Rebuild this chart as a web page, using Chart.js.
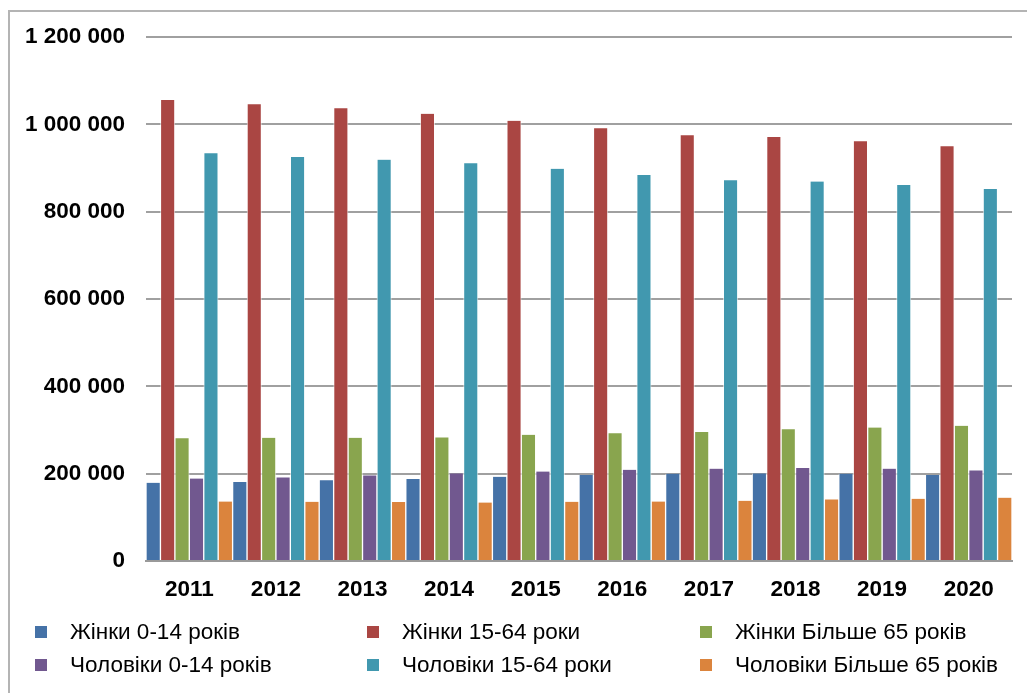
<!DOCTYPE html>
<html>
<head>
<meta charset="utf-8">
<script src="https://cdn.jsdelivr.net/npm/chart.js@4/dist/chart.umd.min.js"></script>
<style>
    body { margin: 0; background: #fff; font-family: "Liberation Sans", Arial, sans-serif; }
    #wrap { position: relative; width: 1027px; height: 693px; overflow: hidden; }
    #frame { position: absolute; left: 8px; top: 10px; width: 1030px; height: 700px;
             border-left: 2px solid #b4b4b4; border-top: 2px solid #b4b4b4; }
    #chart { position: absolute; left: 0; top: 0; }
    #legend { position: absolute; left: 35px; top: 619px; display: grid;
              grid-template-columns: 332px 333px auto; row-gap: 8px; font-size: 22.5px; color: #000; }
    .item { display: flex; align-items: center; height: 25px; }
    .box { width: 12px; height: 12px; margin-right: 23px; flex: none; }
</style>
</head>
<body>
<div id="wrap">
    <div id="frame"></div>
    <canvas id="chart" width="1027" height="693"></canvas>
    <div id="legend"></div>
</div>
<script>
const years = ['2011', '2012', '2013', '2014', '2015', '2016', '2017', '2018', '2019', '2020'];
const yTicks = [0, 200000, 400000, 600000, 800000, 1000000, 1200000];

const women0to14 = [179000, 181000, 185000, 188000, 193000, 197000, 200000, 200500, 200000, 197000];
const women15to64 = [1056000, 1046000, 1037000, 1024000, 1008000, 991000, 975000, 971000, 961000, 950000];
const women65plus = [281000, 282000, 282000, 283000, 289000, 292500, 295500, 302000, 305500, 309500];
const men0to14 = [189000, 191500, 196000, 200500, 205000, 209000, 211500, 213000, 211500, 207500];
const men15to64 = [934000, 925000, 919000, 911000, 898000, 884000, 872000, 869000, 861000, 852000];
const men65plus = [136000, 135500, 135000, 134000, 135500, 136000, 138000, 141000, 142500, 145000];

const seriesNames = ['Жінки 0-14 років', 'Жінки 15-64 роки', 'Жінки Більше 65 років',
    'Чоловіки 0-14 років', 'Чоловіки 15-64 роки', 'Чоловіки Більше 65 років'];
const seriesColors = ['#4572A7', '#AA4643', '#89A54E', '#71588F', '#4198AF', '#DB843D'];
const seriesData = [women0to14, women15to64, women65plus, men0to14, men15to64, men65plus];

function formatThousands(v) {
    return String(v).replace(/\B(?=(\d{3})+(?!\d))/g, ' ');
}

const datasets = seriesNames.map((name, i) => ({
    label: name,
    data: seriesData[i],
    backgroundColor: seriesColors[i],
    borderColor: 'rgba(255,255,255,0.6)',
    borderWidth: { left: 1, right: 1, top: 0, bottom: 0 },
    barPercentage: 1,
    categoryPercentage: 1
}));

const chart = new Chart(document.getElementById('chart'), {
    type: 'bar',
    data: { labels: years, datasets: datasets },
    options: {
        responsive: false,
        animation: false,
        layout: { padding: { top: 37, right: 15, left: 0, bottom: 0 } },
        plugins: { legend: { display: false }, tooltip: { enabled: false } },
        scales: {
            x: {
                grid: { display: false, drawTicks: false },
                border: { display: true, color: '#999', width: 2 },
                ticks: { color: '#000', padding: 15, font: { family: 'Liberation Sans', size: 22.5, weight: 'bold' } },
                afterFit: scale => { scale.height = 132; }
            },
            y: {
                min: 0,
                max: 1200000,
                afterBuildTicks: scale => { scale.ticks = yTicks.map(v => ({ value: v })); },
                grid: { color: '#a0a0a0', lineWidth: 2, drawTicks: false },
                border: { display: false },
                ticks: {
                    color: '#000',
                    padding: 21,
                    font: { family: 'Liberation Sans', size: 22.5, weight: 'bold' },
                    callback: v => formatThousands(v)
                },
                afterFit: scale => { scale.width = 146; }
            }
        }
    }
});

// legend laid out in 3 columns like the original
const legendEl = document.getElementById('legend');
chart.data.datasets.forEach(ds => {
    const item = document.createElement('div');
    item.className = 'item';
    item.innerHTML = `<span class="box" style="background:${ds.backgroundColor}"></span><span>${ds.label}</span>`;
    legendEl.appendChild(item);
});
</script>
</body>
</html>
